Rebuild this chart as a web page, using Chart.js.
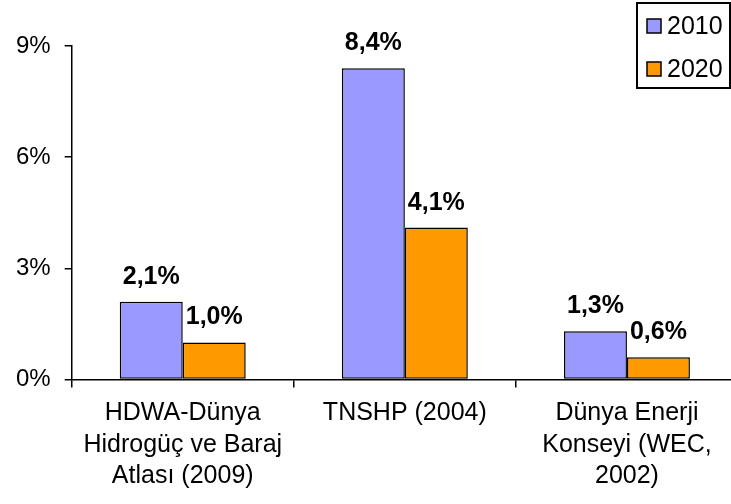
<!DOCTYPE html>
<html>
<head>
<meta charset="utf-8">
<script src="https://cdn.jsdelivr.net/npm/chart.js@4"></script>
<style>
  html, body { margin: 0; padding: 0; background: #fff; overflow: hidden; }
  .container-canvas { position: relative; width: 745px; height: 504px; }
</style>
</head>
<body>
<div class="container-canvas">
  <canvas id="myChart"></canvas>
</div>
<script>
// kaynaklar (x ekseni)
const categories = [
  ['HDWA-Dünya', 'Hidrogüç ve Baraj', 'Atlası (2009)'],
  ['TNSHP (2004)'],
  ['Dünya Enerji', 'Konseyi (WEC,', '2002)']
];
const seriesNames = ['2010', '2020'];
const values2010 = [2.1, 8.4, 1.3];
const values2020 = [1.0, 4.1, 0.6];
const yTicks = [0, 3, 6, 9];

const fontName = "'Liberation Sans', Arial, sans-serif";

// etiketler barların üstüne
const valueLabels = {
  id: 'valueLabels',
  afterDatasetsDraw(chart) {
    const c = chart.ctx;
    c.save();
    c.font = 'bold 25px ' + fontName;
    c.fillStyle = '#000';
    c.textAlign = 'center';
    c.textBaseline = 'alphabetic';
    chart.data.datasets.forEach((ds, i) => {
      chart.getDatasetMeta(i).data.forEach((bar, j) => {
        let txt = ds.data[j].toFixed(1).replace('.', ',') + '%';
        c.fillText(txt, bar.x, bar.y - 18);
      });
    });
    c.restore();
  }
};

// sağ üstteki kutulu lejant
const boxLegend = {
  id: 'boxLegend',
  afterDraw(chart) {
    const c = chart.ctx;
    c.save();
    c.fillStyle = '#fff';
    c.fillRect(637, 3, 93, 85);
    c.lineWidth = 2;
    c.strokeStyle = '#000';
    c.strokeRect(637, 3, 93, 85);
    c.font = '25px ' + fontName;
    c.textBaseline = 'middle';
    chart.data.datasets.forEach((ds, i) => {
      let y = 26 + i * 43;
      c.fillStyle = ds.backgroundColor;
      c.fillRect(647, y - 7, 14, 14);
      c.lineWidth = 1.5;
      c.strokeRect(647, y - 7, 14, 14);
      c.fillStyle = '#000';
      c.fillText(ds.label, 667, y + 1);
    });
    c.restore();
  }
};

const ctx = document.getElementById('myChart');

new Chart(ctx, {
  type: 'bar',
  data: {
    labels: categories,
    datasets: [
      {
        label: seriesNames[0],
        data: values2010,
        backgroundColor: '#9999FF',
        borderColor: '#000',
        borderWidth: 1.5,
        borderSkipped: false
      },
      {
        label: seriesNames[1],
        data: values2020,
        backgroundColor: '#FF9900',
        borderColor: '#000',
        borderWidth: 1.5,
        borderSkipped: false
      }
    ]
  },
  options: {
    responsive: true,
    maintainAspectRatio: false,
    animation: false,
    layout: { padding: { top: 46, right: 7, bottom: 2, left: 2 } },
    datasets: {
      bar: { barPercentage: 1, categoryPercentage: 0.567 }
    },
    plugins: {
      legend: { display: false },
      tooltip: { enabled: false }
    },
    scales: {
      x: {
        offset: true,
        grid: {
          display: true,
          offset: true,
          drawOnChartArea: false,
          tickLength: 8,
          color: '#000',
          lineWidth: 1.5
        },
        border: { display: true, color: '#000', width: 1.5 },
        ticks: {
          color: '#000',
          padding: 10,
          maxRotation: 0,
          autoSkip: false,
          font: { family: fontName, size: 25, lineHeight: 1.26 }
        }
      },
      y: {
        min: 0,
        max: 9,
        afterBuildTicks: axis => { axis.ticks = yTicks.map(v => ({ value: v })); },
        grid: {
          display: true,
          drawOnChartArea: false,
          tickLength: 7,
          color: '#000',
          lineWidth: 1.5
        },
        border: { display: true, color: '#000', width: 1.5 },
        ticks: {
          color: '#000',
          padding: 14,
          callback: v => v + '%',
          font: { family: fontName, size: 24 }
        }
      }
    }
  },
  plugins: [valueLabels, boxLegend]
});
</script>
</body>
</html>
